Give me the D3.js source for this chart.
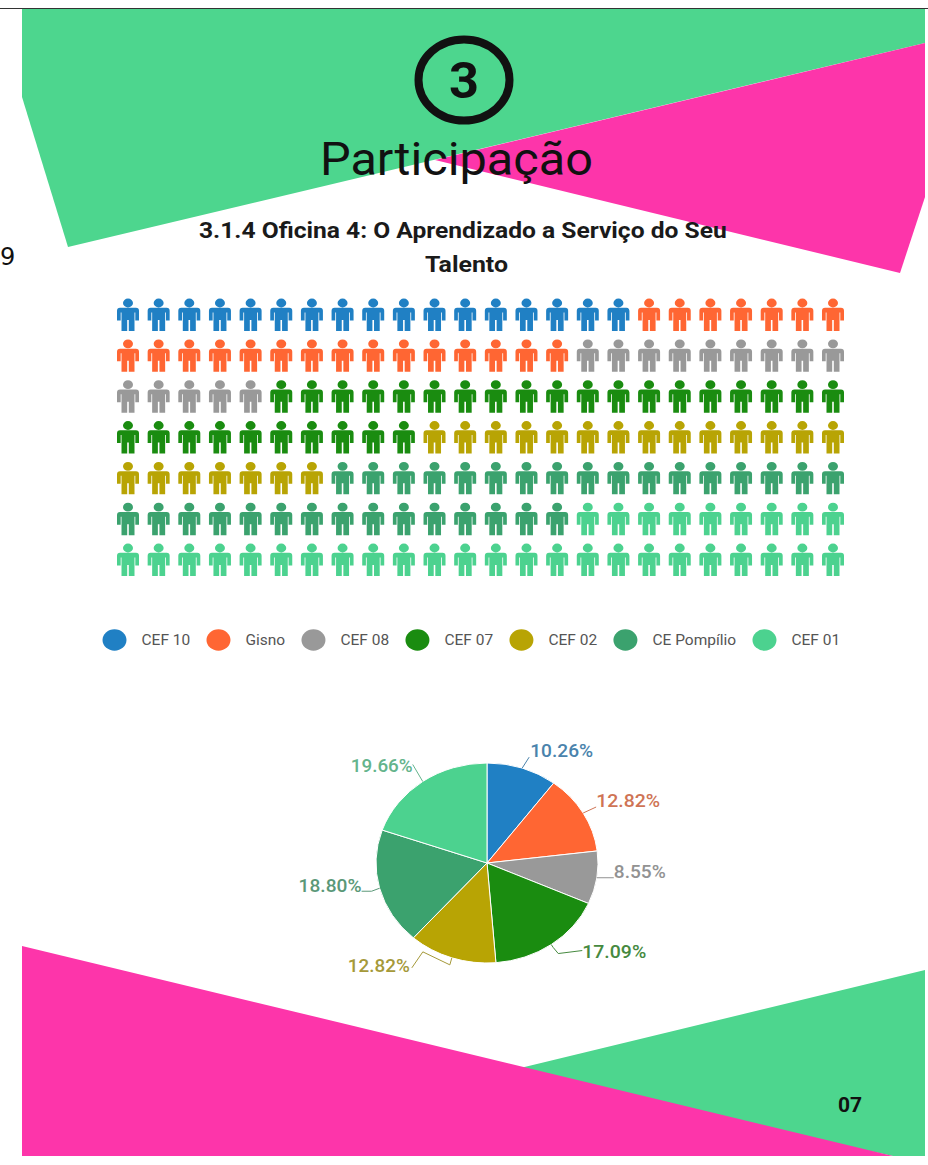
<!DOCTYPE html>
<html lang="pt">
<head>
  <meta charset="UTF-8" />
  <title>Participação</title>
  <script src="https://d3js.org/d3.v7.min.js"></script>
  <style>
    * { margin: 0; padding: 0; box-sizing: border-box; }
    body { background: #fff; }
    svg { display: block; font-family: Roboto, sans-serif; }
    .icons { filter: blur(0.7px); }
  </style>
</head>
<body>
  <svg id="page" width="928" height="1165"></svg>

  <script>
    const schools = ['CEF 10', 'Gisno', 'CEF 08', 'CEF 07', 'CEF 02', 'CE Pompílio', 'CEF 01'];
    const shares = [10.26, 12.82, 8.55, 17.09, 12.82, 18.80, 19.66];
    const iconCounts = [17, 22, 14, 29, 21, 32, 33];
    const shareLabels = ['10.26%', '12.82%', '8.55%', '17.09%', '12.82%', '18.80%', '19.66%'];
    const colors = ['#2080c4', '#ff6633', '#999999', '#1a8c10', '#b8a404', '#3ba26e', '#4cd28f'];

    const GREEN = '#4dd68e';
    const PINK = '#fd35aa';
    const INK = '#111';

    // page art, in page pixels
    const greenTop = [[22, 9], [925, 9], [925, 43], [68, 247], [22, 97]];
    const pinkTop = [[925, 43], [925, 197], [900, 273], [435, 160]];
    const pinkBottom = [[22, 946], [893, 1156], [22, 1156]];
    const greenBottom = [[500, 1073], [925, 970], [925, 1156], [893, 1156]];

    // one person, 22 wide and 32 tall, drawn around its own centre
    const PERSON = 'M-8,-7.2 H8 Q11,-7.2 11,-4.2 V5.5 H7.3 V-2.5 H6.5 V16 H0.8 V5 H-0.8 V16 H-6.5 V-2.5 H-7.3 V5.5 H-11 V-4.2 Q-11,-7.2 -8,-7.2 Z ' +
      'M-5,-12 A5,4.4 0 1 1 5,-12 A5,4.4 0 1 1 -5,-12 Z';

    const svg = d3.select('#page');

    function drawPolygon(points, fill) {
      svg.append('polygon').attr('points', points.join(' ')).attr('fill', fill);
    }

    // the source picture is stretched sideways, so text is fitted to its measured width
    function fitText(x, y, str, size, weight, width, fill) {
      const t = svg.append('text')
        .attr('font-size', size)
        .attr('font-weight', weight)
        .attr('fill', fill)
        .text(str);
      const k = width / t.node().getComputedTextLength();
      t.attr('transform', `translate(${x},${y}) scale(${k},1)`);
      return t;
    }

    function drawHeader() {
      drawPolygon(greenTop, GREEN);
      drawPolygon(pinkTop, PINK);

      svg.append('line')
        .attr('x1', 0).attr('x2', 928).attr('y1', 8.5).attr('y2', 8.5)
        .attr('stroke', '#333').attr('stroke-width', 1.2);

      svg.append('text')
        .attr('x', 0).attr('y', 265)
        .attr('font-family', 'DejaVu Sans')
        .attr('font-size', 24)
        .attr('fill', INK)
        .text('9');

      svg.append('ellipse')
        .attr('cx', 464).attr('cy', 80).attr('rx', 45.5).attr('ry', 40.5)
        .attr('fill', 'none').attr('stroke', INK).attr('stroke-width', 8);

      fitText(449, 98, '3', 50, 700, 30, INK);
      fitText(320, 175, 'Participação', 46, 400, 273, INK);
      fitText(199, 238, '3.1.4 Oficina 4: O Aprendizado a Serviço do Seu', 22, 700, 528, '#1a1a1a');
      fitText(425, 272, 'Talento', 22, 700, 83, '#1a1a1a');
    }

    function drawIcons() {
      const perRow = 24;
      const rows = 7;
      const x = d3.scalePoint().domain(d3.range(perRow)).range([128, 833]);
      const y = d3.scalePoint().domain(d3.range(rows)).range([315, 560]);

      const icons = schools.flatMap((s, i) => d3.range(iconCounts[i]).map(() => i));

      svg.append('g').attr('class', 'icons')
        .selectAll('path')
        .data(icons)
        .enter()
        .append('path')
        .attr('d', PERSON)
        .attr('fill', d => colors[d])
        .attr('transform', (d, i) => `translate(${x(i % perRow)},${y(Math.floor(i / perRow))})`);
    }

    function drawLegend() {
      const g = svg.append('g');
      let cx = 114.5;
      schools.forEach((name, i) => {
        g.append('ellipse')
          .attr('cx', cx).attr('cy', 640).attr('rx', 12).attr('ry', 10.7)
          .attr('fill', colors[i]);
        const t = g.append('text')
          .attr('font-size', 14.5)
          .attr('fill', '#555')
          .text(name);
        const w = t.node().getComputedTextLength() * 1.07;
        t.attr('transform', `translate(${cx + 27},645) scale(1.07,1)`);
        cx += 27 + w + 28.2;
      });
    }

    function drawPie() {
      const cx = 487;
      const cy = 863;
      const ry = 100;
      const stretch = 1.11;

      const pie = d3.pie().sort(null).value(d => d);
      const arcs = pie(shares);
      const arc = d3.arc().innerRadius(0).outerRadius(ry);
      const edge = d3.arc().innerRadius(ry).outerRadius(ry);
      const muted = c => d3.interpolateRgb(c, '#888')(0.4);

      svg.append('g')
        .attr('transform', `translate(${cx},${cy}) scale(${stretch},1)`)
        .selectAll('path')
        .data(arcs)
        .enter()
        .append('path')
        .attr('d', arc)
        .attr('fill', (d, i) => colors[i])
        .attr('stroke', '#fff')
        .attr('stroke-width', 1)
        .attr('vector-effect', 'non-scaling-stroke');

      // leader bends, as offsets from where each line leaves the pie
      const leaders = [
        [[7, -11]],
        [[13, -6]],
        [[17, 0]],
        [[2, 3], [7, 9], [31, 6]],
        [[-2, 7], [-29, -6], [-40, 10]],
        [[-8, 3], [-18, 3]],
        [[-10, -17]]
      ];
      // label left edge and baseline, as offsets from the last leader point
      const labelOffsets = [[1, 0], [0, 0], [0, 0], [0, 7], [-64, 4], [-63, 1], [-62, 8]];
      const labelWidths = [63, 64, 52, 64, 62, 63, 62];

      arcs.forEach((d, i) => {
        const [ex, ey] = edge.centroid(d);
        const start = [cx + ex * stretch, cy + ey];
        const points = [start].concat(leaders[i].map(o => [start[0] + o[0], start[1] + o[1]]));
        svg.append('path')
          .attr('d', d3.line()(points))
          .attr('fill', 'none')
          .attr('stroke', muted(colors[i]))
          .attr('stroke-width', 1);

        const last = points[points.length - 1];
        fitText(last[0] + labelOffsets[i][0], last[1] + labelOffsets[i][1], shareLabels[i], 18, 500, labelWidths[i], muted(colors[i]));
      });
    }

    function drawFooter() {
      drawPolygon(greenBottom, GREEN);
      drawPolygon(pinkBottom, PINK);

      svg.append('text')
        .attr('x', 838).attr('y', 1112)
        .attr('font-size', 21)
        .attr('font-weight', 700)
        .attr('fill', INK)
        .text('07');
    }

    drawHeader();
    drawIcons();
    drawLegend();
    drawPie();
    drawFooter();
  </script>
</body>
</html>
